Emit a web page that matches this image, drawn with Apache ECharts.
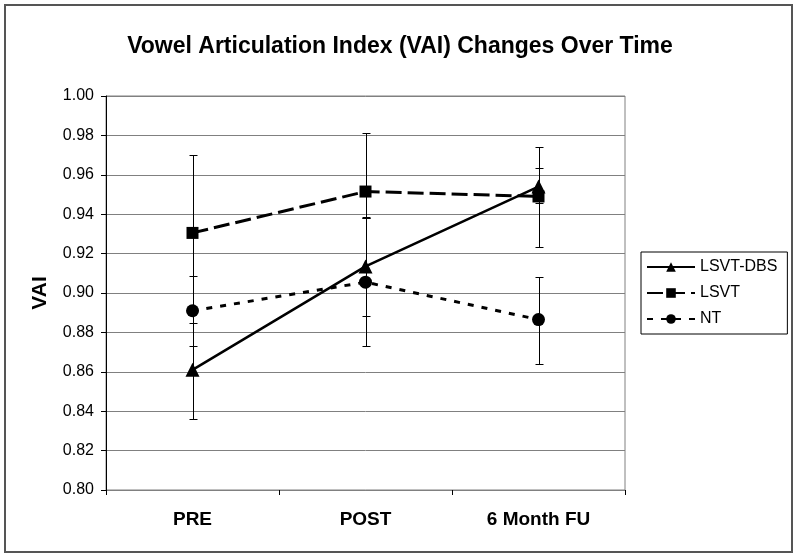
<!DOCTYPE html>
<html>
<head>
<meta charset="utf-8">
<script src="https://cdn.jsdelivr.net/npm/echarts@6/dist/echarts.min.js"></script>
<style>
html,body{margin:0;padding:0;background:#fff;}
#chart{width:800px;height:558px;}
</style>
</head>
<body>
<div id="chart"></div>
<script>
var categories = ['PRE', 'POST', '6 Month FU'];
var yTicks = ['0.80','0.82','0.84','0.86','0.88','0.90','0.92','0.94','0.96','0.98','1.00'];

var dbsValues  = [0.861, 0.9135, 0.954];
var lsvtValues = [0.9305, 0.9515, 0.949];
var ntValues   = [0.891, 0.9055, 0.8865];

var dbsLow   = [0.836, 0.8885, 0.9455];
var dbsHigh  = [0.885, 0.9385, 0.9635];
var lsvtLow  = [0.891, 0.938, 0.9235];
var lsvtHigh = [0.970, 0.981, 0.974];
var ntLow    = [0.873, 0.873, 0.864];
var ntHigh   = [0.9085, 0.938, 0.908];

function errData(lo, hi) {
  return categories.map(function (c, i) { return [i, lo[i], hi[i]]; });
}

function renderErr(params, api) {
  var x = api.value(0);
  var lo = api.coord([x, api.value(1)]);
  var hi = api.coord([x, api.value(2)]);
  var px = Math.round(lo[0]) + 0.5;
  var ly = Math.round(lo[1]) + 0.5;
  var hy = Math.round(hi[1]) + 0.5;
  var w = 4;
  var st = { stroke: '#000', lineWidth: 1 };
  return {
    type: 'group',
    children: [
      { type: 'line', shape: { x1: px, y1: ly, x2: px, y2: hy }, style: st },
      { type: 'line', shape: { x1: px - w, y1: ly, x2: px + w, y2: ly }, style: st },
      { type: 'line', shape: { x1: px - w, y1: hy, x2: px + w, y2: hy }, style: st }
    ]
  };
}

var chart = echarts.init(document.getElementById('chart'), null, { renderer: 'canvas' });
var option = {
  backgroundColor: '#fff',
  animation: false,
  title: {
    text: 'Vowel Articulation Index (VAI) Changes Over Time',
    left: 'center',
    top: 30,
    textStyle: { fontFamily: 'Liberation Sans', fontWeight: 'bold', fontSize: 23, color: '#000' }
  },
  graphic: [{
    type: 'rect',
    shape: { x: 5, y: 5, width: 787, height: 547 },
    style: { fill: 'none', stroke: '#555', lineWidth: 2 },
    z: 100
  }],
  legend: {
    orient: 'vertical',
    left: 641,
    top: 252,
    data: ['LSVT-DBS', 'LSVT', 'NT'],
    itemWidth: 48,
    itemHeight: 12,
    itemGap: 10,
    padding: [7, 10, 7, 5],
    backgroundColor: '#fff',
    borderColor: '#000',
    borderWidth: 1,
    textStyle: { fontFamily: 'Liberation Sans', fontSize: 16, color: '#000' }
  },
  grid: {
    left: 106, right: 175, top: 96, bottom: 68,
    show: true, borderColor: '#808080', borderWidth: 1
  },
  xAxis: {
    type: 'category',
    data: categories,
    boundaryGap: true,
    axisLine: { lineStyle: { color: '#808080', width: 1 } },
    axisTick: { show: true, length: 5, lineStyle: { color: '#000' } },
    axisLabel: { margin: 20, fontFamily: 'Liberation Sans', fontWeight: 'bold', fontSize: 19, color: '#000' }
  },
  yAxis: {
    type: 'value',
    min: 0.80, max: 1.00, interval: 0.02,
    name: 'VAI',
    nameLocation: 'middle',
    nameGap: 55,
    nameTextStyle: { fontFamily: 'Liberation Sans', fontWeight: 'bold', fontSize: 21, color: '#000' },
    axisLine: { show: true, lineStyle: { color: '#000', width: 1 } },
    axisTick: { show: true, length: 5, lineStyle: { color: '#000' } },
    axisLabel: {
      margin: 12, fontFamily: 'Liberation Sans', fontSize: 16, color: '#000',
      formatter: function (v) { var i = Math.round((v - 0.80) / 0.02); return yTicks[i]; }
    },
    splitLine: { show: true, lineStyle: { color: '#808080', width: 1 } }
  },
  series: [
    { type: 'custom', name: 'errDBS', renderItem: renderErr, data: errData(dbsLow, dbsHigh), z: 1 },
    { type: 'custom', name: 'errLSVT', renderItem: renderErr, data: errData(lsvtLow, lsvtHigh), z: 1 },
    { type: 'custom', name: 'errNT', renderItem: renderErr, data: errData(ntLow, ntHigh), z: 1 },
    {
      name: 'LSVT-DBS', type: 'line', data: dbsValues, z: 3,
      symbol: 'triangle', symbolSize: 14, showAllSymbol: true,
      itemStyle: { color: '#000' },
      lineStyle: { color: '#000', width: 2.5, type: 'solid' }
    },
    {
      name: 'LSVT', type: 'line', data: lsvtValues, z: 3,
      symbol: 'rect', symbolSize: 12,
      itemStyle: { color: '#000' },
      lineStyle: { color: '#000', width: 3, type: [16, 6] }
    },
    {
      name: 'NT', type: 'line', data: ntValues, z: 3,
      symbol: 'circle', symbolSize: 13,
      itemStyle: { color: '#000' },
      lineStyle: { color: '#000', width: 3, type: [6, 8] }
    }
  ]
};
chart.setOption(option);
</script>
</body>
</html>
